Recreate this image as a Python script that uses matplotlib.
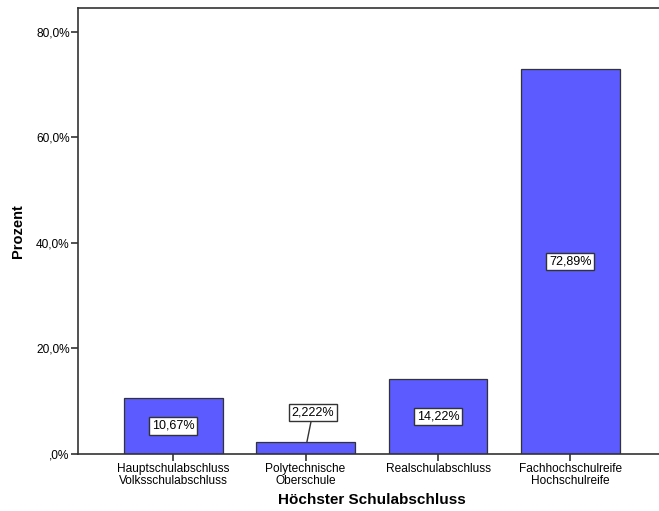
import matplotlib
matplotlib.use("Agg")
import matplotlib.pyplot as plt

categories = ["Hauptschulabschluss\nVolksschulabschluss", "Polytechnische\nOberschule",
              "Realschulabschluss", "Fachhochschulreife\nHochschulreife"]
values = [10.67, 2.222, 14.22, 72.89]
value_labels = ["10,67%", "2,222%", "14,22%", "72,89%"]
yticks = [0, 20, 40, 60, 80]
ytick_labels = [",0%", "20,0%", "40,0%", "60,0%", "80,0%"]

plt.rcParams["font.family"] = ["Liberation Sans", "DejaVu Sans"]

fig = plt.figure(figsize=(6.59, 5.11), dpi=100)
ax = fig.add_axes([0.1184, 0.1115, 0.8816, 0.8728])

x = list(range(len(categories)))
ax.bar(x, values, width=0.747, color="#5b5bff", edgecolor="#333333", linewidth=0.9, zorder=2)

ax.set_xlim(-0.717, 3.668)
ax.set_ylim(0, 84.5)
ax.set_yticks(yticks)
ax.set_yticklabels(ytick_labels)
ax.set_xticks(x)
ax.set_xticklabels(categories, linespacing=0.95)
ax.tick_params(axis="both", labelsize=8.6, color="#333333", length=5, width=1.2, direction="out")
ax.tick_params(axis="x", pad=1.5)
ax.tick_params(axis="y", pad=1)

for side in ["top", "left", "bottom"]:
    ax.spines[side].set_color("#333333")
    ax.spines[side].set_linewidth(1.2)
ax.spines["right"].set_visible(False)

box = dict(boxstyle="square,pad=0.22", facecolor="white", edgecolor="#333333", linewidth=1.0)
for xi, v, lab in zip(x, values, value_labels):
    if v < 5:
        ax.annotate(lab, xy=(xi + 0.01, v), xytext=(xi + 0.055, v + 5.6),
                    ha="center", va="center", fontsize=9, bbox=box,
                    arrowprops=dict(arrowstyle="-", color="#333333", lw=1.0, shrinkA=0, shrinkB=0),
                    zorder=3)
    else:
        ax.text(xi, v / 2, lab, ha="center", va="center", fontsize=9, bbox=box, zorder=3)

ax.set_ylabel("Prozent", fontsize=10.5, fontweight="bold", labelpad=8)
ax.set_xlabel("Höchster Schulabschluss", fontsize=11, fontweight="bold")
ax.xaxis.set_label_coords((372 - 78) / 581, -(500 - 454) / 446)
ax.xaxis.label.set_va("center")

fig.savefig("out.png", dpi=100)
